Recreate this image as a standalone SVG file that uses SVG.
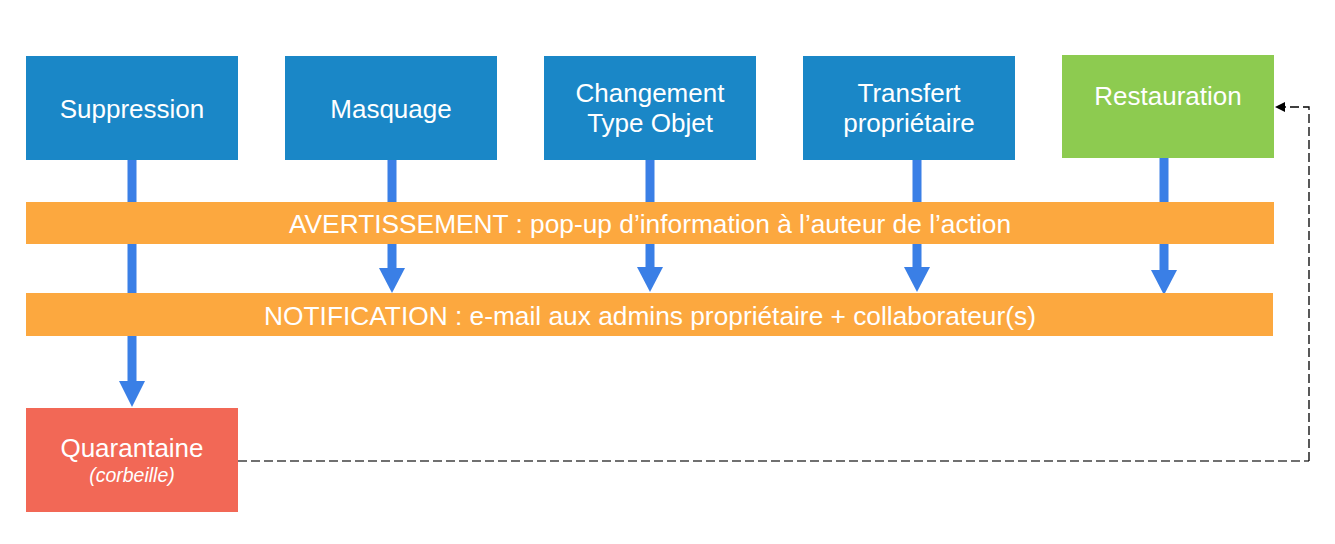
<svg xmlns="http://www.w3.org/2000/svg" width="1335" height="544" viewBox="0 0 1335 544">
<defs>
<style>
.box{fill:#1a87c7}
.lbl{font-family:"Liberation Sans",Arial,sans-serif;font-size:26px;fill:#ffffff;text-anchor:middle}
.bar{fill:#fca83f}
.barlbl{font-family:"Liberation Sans",Arial,sans-serif;font-size:26.3px;fill:#ffffff;text-anchor:middle}
.flow{stroke:#3a7fe6;stroke-width:9;fill:none}
.head{fill:#3a7fe6}
</style>
<marker id="dash-arrow" markerWidth="10" markerHeight="10" refX="9" refY="5" orient="auto" markerUnits="userSpaceOnUse">
<path d="M0,0 L10,5 L0,10 Z" fill="#000"/>
</marker>
</defs>
<rect width="1335" height="544" fill="#ffffff"/>
<g id="connectors">
<line class="flow" x1="132" y1="160" x2="132" y2="383"/>
<polygon class="head" points="119,381 145,381 132,407"/>
<line class="flow" x1="392" y1="160" x2="392" y2="270"/>
<polygon class="head" points="379,268 405,268 392,293"/>
<line class="flow" x1="650" y1="160" x2="650" y2="269"/>
<polygon class="head" points="637,267 663,267 650,292"/>
<line class="flow" x1="917" y1="160" x2="917" y2="269"/>
<polygon class="head" points="904,267 930,267 917,292"/>
<line class="flow" x1="1164" y1="158" x2="1164" y2="272"/>
<polygon class="head" points="1151,270 1177,270 1164,295"/>
<path d="M238,461 H1309" stroke="#707070" stroke-width="2" stroke-dasharray="9,4" fill="none"/>
<path d="M1309,461 V107 H1276" stroke="#000" stroke-width="1.3" stroke-dasharray="9,4" fill="none" marker-end="url(#dash-arrow)"/>
</g>
<g id="suppression">
<rect class="box" x="26" y="56" width="212" height="104"/>
<text class="lbl" x="132" y="118">Suppression</text>
</g>
<g id="masquage">
<rect class="box" x="285" y="56" width="212" height="104"/>
<text class="lbl" x="391" y="118">Masquage</text>
</g>
<g id="changement">
<rect class="box" x="544" y="56" width="212" height="104"/>
<text class="lbl" x="650" y="102">Changement</text>
<text class="lbl" x="650" y="132">Type Objet</text>
</g>
<g id="transfert">
<rect class="box" x="803" y="56" width="212" height="104"/>
<text class="lbl" x="909" y="102">Transfert</text>
<text class="lbl" x="909" y="132">propriétaire</text>
</g>
<g id="restauration">
<rect x="1062" y="55" width="212" height="103" fill="#8dcb50"/>
<text class="lbl" x="1168" y="105">Restauration</text>
</g>
<g id="avertissement">
<rect class="bar" x="26" y="202" width="1248" height="42"/>
<text class="barlbl" x="650" y="233">AVERTISSEMENT : pop-up d’information à l’auteur de l’action</text>
</g>
<g id="notification">
<rect class="bar" x="26" y="293" width="1247" height="43"/>
<text class="barlbl" x="650" y="325">NOTIFICATION : e-mail aux admins propriétaire + collaborateur(s)</text>
</g>
<g id="quarantaine">
<rect x="26" y="408" width="212" height="104" fill="#f26856"/>
<text class="lbl" x="132" y="457">Quarantaine</text>
<text x="132" y="482" font-family="'Liberation Sans',Arial,sans-serif" font-size="19.5" font-style="italic" fill="#ffffff" text-anchor="middle">(corbeille)</text>
</g>
</svg>
